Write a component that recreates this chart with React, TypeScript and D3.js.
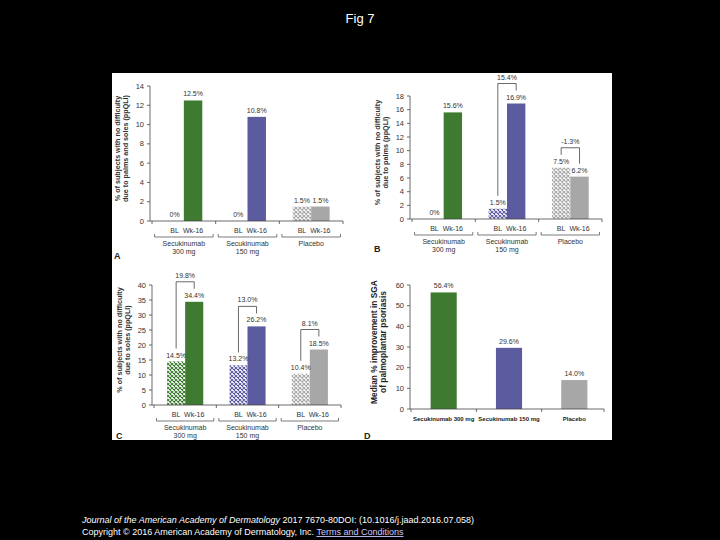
import React from 'react';
import * as d3 from 'd3';

// groups and timepoints
const groups = ['Secukinumab 300 mg', 'Secukinumab 150 mg', 'Placebo'];
const groupLine1 = ['Secukinumab', 'Secukinumab', 'Placebo'];
const groupLine2 = ['300 mg', '150 mg', ''];
const timepoints = ['BL', 'Wk-16'];

// panel A: palms and soles
const aBL = [0, 0, 1.5];
const aWk16 = [12.5, 10.8, 1.5];
const aDiff: (number | null)[] = [null, null, null];
const aTicks = [0, 2, 4, 6, 8, 10, 12, 14];

// panel B: palms
const bBL = [0, 1.5, 7.5];
const bWk16 = [15.6, 16.9, 6.2];
const bDiff: (number | null)[] = [null, 15.4, -1.3];
const bTicks = [0, 2, 4, 6, 8, 10, 12, 14, 16, 18];

// panel C: soles
const cBL = [14.5, 13.2, 10.4];
const cWk16 = [34.4, 26.2, 18.5];
const cDiff: (number | null)[] = [19.8, 13.0, 8.1];
const cTicks = [0, 5, 10, 15, 20, 25, 30, 35, 40];

// panel D: median SGA improvement
const dValues = [56.4, 29.6, 14.0];
const dTicks = [0, 10, 20, 30, 40, 50, 60];

const solid = ['#3e7b31', '#5d5b9f', '#a7a7a7'];
const hatchIds = ['hatchGreen', 'hatchPurple', 'hatchGray'];

const FONT = 'Liberation Sans, Arial, sans-serif';
const AXIS = '#444';
const TXT = '#333';

const pct = (v: number) => (v === 0 ? '0%' : `${v.toFixed(1)}%`);

interface GroupedProps {
  axisX: number;
  right: number;
  bottom: number;
  top: number;
  ticks: number[];
  bl: number[];
  wk: number[];
  diffs: (number | null)[];
  yLabel: string[];
  letter: string;
  letterY: number;
}

const GroupedPanel: React.FC<GroupedProps> = ({ axisX, right, bottom, top, ticks, bl, wk, diffs, yLabel, letter, letterY }) => {
  const y = d3.scaleLinear().domain([0, ticks[ticks.length - 1]]).range([bottom, top]);
  const x0 = d3.scaleBand().domain(groups).range([axisX + 2, right]).paddingInner(0.42).paddingOuter(0.21);
  const x1 = d3.scaleBand().domain(timepoints).range([0, x0.bandwidth()]);
  const step = x0.step();
  const bw = x1.bandwidth();
  const midY = (top + bottom) / 2 - 5;
  const sepTicks = [...groups.map(g => (x0(g) as number) - step * 0.21), right];

  return (
    <g fontFamily={FONT}>
      {/* y axis */}
      <line x1={axisX} x2={axisX} y1={y(0)} y2={top} stroke={AXIS} strokeWidth={0.8} />
      {ticks.map(t => (
        <g key={t}>
          <line x1={axisX - 3} x2={axisX} y1={y(t)} y2={y(t)} stroke={AXIS} strokeWidth={0.8} />
          <text x={axisX - 6} y={y(t) + 2.5} fontSize={7.5} textAnchor="end" fill={TXT}>{t}</text>
        </g>
      ))}
      <text transform={`translate(${axisX - 30},${midY}) rotate(-90)`} fontSize={7.2} fontWeight="bold" textAnchor="middle" fill={TXT}>{yLabel[0]}</text>
      <text transform={`translate(${axisX - 22},${midY}) rotate(-90)`} fontSize={7.2} fontWeight="bold" textAnchor="middle" fill={TXT}>{yLabel[1]}</text>

      {/* bars */}
      {groups.map((g, i) => {
        const gx = x0(g) as number;
        const xb = gx + (x1('BL') as number);
        const xw = gx + (x1('Wk-16') as number);
        const cb = xb + bw / 2;
        const cw = xw + bw / 2;
        const d = diffs[i];
        const topY = y(Math.max(bl[i], wk[i])) - 20;
        return (
          <g key={g}>
            <rect x={xb} y={y(bl[i])} width={bw} height={y(0) - y(bl[i])} fill={`url(#${hatchIds[i]})`} />
            <rect x={xw} y={y(wk[i])} width={bw} height={y(0) - y(wk[i])} fill={solid[i]} />
            <text x={cb} y={y(bl[i]) - 4} fontSize={7} textAnchor="middle" fill={TXT}>{pct(bl[i])}</text>
            <text x={cw} y={y(wk[i]) - 4} fontSize={7} textAnchor="middle" fill={TXT}>{pct(wk[i])}</text>
            {d !== null && (
              <g>
                <path d={`M${cb},${y(bl[i]) - 13}V${topY}H${cw}V${y(wk[i]) - 13}`} fill="none" stroke={AXIS} strokeWidth={0.8} />
                <text x={(cb + cw) / 2} y={topY - 4} fontSize={7} textAnchor="middle" fill={TXT}>{pct(d)}</text>
              </g>
            )}
            <text x={cb} y={bottom + 12} fontSize={7} textAnchor="middle" fill={TXT}>BL</text>
            <text x={cw} y={bottom + 12} fontSize={7} textAnchor="middle" fill={TXT}>Wk-16</text>
            <path
              d={`M${gx + bw - step * 0.46},${bottom + 13}V${bottom + 16}H${gx + bw + step * 0.46}V${bottom + 13}`}
              fill="none" stroke={AXIS} strokeWidth={0.7}
            />
            <text x={gx + bw} y={bottom + 25} fontSize={7} textAnchor="middle" fill={TXT}>{groupLine1[i]}</text>
            <text x={gx + bw} y={bottom + 33} fontSize={7} textAnchor="middle" fill={TXT}>{groupLine2[i]}</text>
          </g>
        );
      })}

      {/* x axis */}
      <line x1={axisX} x2={right} y1={y(0)} y2={y(0)} stroke={AXIS} strokeWidth={0.8} />
      {sepTicks.map((t, i) => (
        <line key={i} x1={t} x2={t} y1={y(0)} y2={y(0) + 3} stroke={AXIS} strokeWidth={0.8} />
      ))}
      <text x={axisX - 36} y={letterY} fontSize={9} fontWeight="bold" fill="#222">{letter}</text>
    </g>
  );
};

const PanelD: React.FC = () => {
  const axisX = 410, right = 604, bottom = 409, top = 285;
  const y = d3.scaleLinear().domain([0, 60]).range([bottom, top]);
  const x = d3.scaleBand().domain(groups).range([axisX + 1, right + 3]).paddingInner(0.6).paddingOuter(0.3);
  const step = x.step();
  const sepTicks = [...groups.map(g => (x(g) as number) - step * 0.3), right];
  const midY = (top + bottom) / 2 - 5;
  return (
    <g fontFamily={FONT}>
      <line x1={axisX} x2={axisX} y1={bottom} y2={top} stroke={AXIS} strokeWidth={0.8} />
      {dTicks.map(t => (
        <g key={t}>
          <line x1={axisX - 3} x2={axisX} y1={y(t)} y2={y(t)} stroke={AXIS} strokeWidth={0.8} />
          <text x={axisX - 6} y={y(t) + 2.5} fontSize={7.5} textAnchor="end" fill={TXT}>{t}</text>
        </g>
      ))}
      <text transform={`translate(${axisX - 33},${midY}) rotate(-90)`} fontSize={8.4} fontWeight="bold" textAnchor="middle" fill="#222">Median % improvement in SGA</text>
      <text transform={`translate(${axisX - 24},${midY}) rotate(-90)`} fontSize={8.4} fontWeight="bold" textAnchor="middle" fill="#222">of palmoplantar psoriasis</text>
      {groups.map((g, i) => {
        const gx = x(g) as number;
        return (
          <g key={g}>
            <rect x={gx} y={y(dValues[i])} width={x.bandwidth()} height={bottom - y(dValues[i])} fill={solid[i]} />
            <text x={gx + x.bandwidth() / 2} y={y(dValues[i]) - 4} fontSize={7} textAnchor="middle" fill={TXT}>{pct(dValues[i])}</text>
            <text x={gx + x.bandwidth() / 2} y={bottom + 12} fontSize={6} fontWeight="bold" textAnchor="middle" fill="#222">{g}</text>
          </g>
        );
      })}
      <line x1={axisX} x2={right} y1={bottom} y2={bottom} stroke={AXIS} strokeWidth={0.8} />
      {sepTicks.map((t, i) => (
        <line key={i} x1={t} x2={t} y1={bottom} y2={bottom + 3} stroke={AXIS} strokeWidth={0.8} />
      ))}
      <text x={364} y={439} fontSize={9} fontWeight="bold" fill="#222">D</text>
    </g>
  );
};

const App: React.FC = () => {
  return (
    <svg width={720} height={540} style={{ position: 'absolute', left: 0, top: 0, display: 'block' }}>
      <defs>
        {hatchIds.map((id, i) => (
          <pattern key={id} id={id} width={4} height={4} patternUnits="userSpaceOnUse">
            <rect width={4} height={4} fill="#fff" />
            <path d="M0,0L4,4M0,4L4,0" stroke={solid[i]} strokeWidth={1.1} />
          </pattern>
        ))}
      </defs>
      <rect width={720} height={540} fill="#000" />
      <text x={360} y={23} fontFamily={FONT} fontSize={13} fill="#fff" textAnchor="middle">Fig 7</text>
      <rect x={112} y={73} width={500} height={367} fill="#fff" />

      <GroupedPanel axisX={150} right={343} bottom={221} top={86} ticks={aTicks} bl={aBL} wk={aWk16} diffs={aDiff}
        yLabel={['% of subjects with no difficulty', 'due to palms and soles (ppQLI)']} letter="A" letterY={259} />
      <GroupedPanel axisX={410} right={602} bottom={219} top={96} ticks={bTicks} bl={bBL} wk={bWk16} diffs={bDiff}
        yLabel={['% of subjects with no difficulty', 'due to palms (ppQLI)']} letter="B" letterY={252} />
      <GroupedPanel axisX={152} right={341} bottom={405} top={285} ticks={cTicks} bl={cBL} wk={cWk16} diffs={cDiff}
        yLabel={['% of subjects with no difficulty', 'due to soles (ppQLI)']} letter="C" letterY={439} />
      <PanelD />

      <g fontFamily={FONT} fontSize={9} fill="#fff">
        <text x={82} y={523}>
          <tspan fontStyle="italic">Journal of the American Academy of Dermatology</tspan>
          <tspan> 2017 7670-80DOI: (10.1016/j.jaad.2016.07.058)</tspan>
        </text>
        <text x={82} y={535}>
          <tspan>Copyright © 2016 American Academy of Dermatology, Inc. </tspan>
          <tspan fill="#c8c8ff" textDecoration="underline">Terms and Conditions</tspan>
        </text>
      </g>
    </svg>
  );
};

export default App;
